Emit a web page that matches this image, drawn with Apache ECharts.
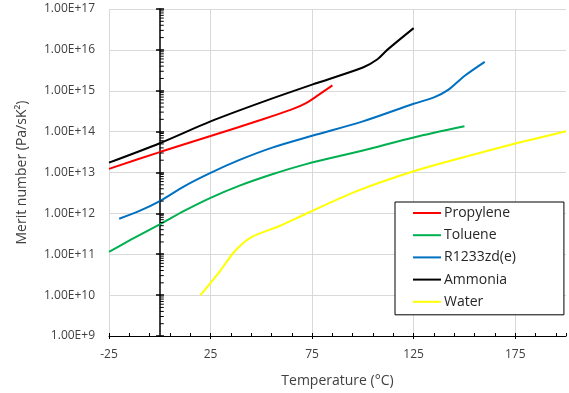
<!DOCTYPE html>
<html>
<head>
<meta charset="utf-8">
<script src="https://cdn.jsdelivr.net/npm/echarts@6/dist/echarts.min.js"></script>
<style>
  html, body { margin: 0; padding: 0; background: #fff; }
  #main { width: 569px; height: 393px; }
</style>
</head>
<body>
<div id="main"></div>
<script>
// values (temperature in °C, merit number in Pa/sK²)
var propyleneX = [-25, 0, 25, 50, 65, 72, 78, 85];
var propyleneY = [1.23e13, 3.16e13, 7.8e13, 1.95e14, 3.5e14, 5.0e14, 7.8e14, 1.35e15];

var tolueneX = [-25, -14, 0, 12, 25, 39, 55, 72, 100, 125, 150];
var tolueneY = [1.15e11, 2.3e11, 5.4e11, 1.15e12, 2.4e12, 4.7e12, 8.9e12, 1.6e13, 3.45e13, 7.2e13, 1.35e14];

var r1233X = [-20, -10, 0, 12, 25, 39, 55, 75, 100, 125, 135, 142, 150, 160];
var r1233Y = [7.4e11, 1.15e12, 2.0e12, 4.6e12, 9.8e12, 2.0e13, 4.0e13, 7.9e13, 1.78e14, 4.8e14, 6.9e14, 1.05e15, 2.3e15, 5.1e15];

var ammoniaX = [-25, 0, 25, 50, 75, 100, 107, 112, 125];
var ammoniaY = [1.74e13, 5.2e13, 1.78e14, 5.2e14, 1.41e15, 3.7e15, 5.8e15, 1.0e16, 3.4e16];

var waterX = [20, 29, 37, 45, 59, 72, 97, 125, 150, 175, 200];
var waterY = [1.0e10, 3.5e10, 1.2e11, 2.6e11, 4.9e11, 9.8e11, 3.5e12, 1.07e13, 2.4e13, 5.1e13, 1.02e14];

var seriesNames = ["Propylene", "Toluene", "R1233zd(e)", "Ammonia", "Water"];
var seriesColors = ["#FF0000", "#00B050", "#0070C0", "#000000", "#FFFF00"];

// minor tick marks on the vertical axis that crosses at 0 °C
var decadeStarts = [1e9, 1e10, 1e11, 1e12, 1e13, 1e14, 1e15, 1e16];
var minorSteps = [2, 3, 4, 5, 6, 7, 8, 9];

function zip(xs, ys) {
  return xs.map(function (x, i) { return [x, ys[i]]; });
}

var allData = [
  zip(propyleneX, propyleneY),
  zip(tolueneX, tolueneY),
  zip(r1233X, r1233Y),
  zip(ammoniaX, ammoniaY),
  zip(waterX, waterY)
];

var minorTickData = [];
decadeStarts.forEach(function (d) {
  minorSteps.forEach(function (s) { minorTickData.push([0, d * s]); });
});

var chart = echarts.init(document.getElementById("main"));
var font = "'Open Sans', 'Liberation Sans', sans-serif";

var logAxisBase = {
  type: "log",
  logBase: 10,
  min: 1e9,
  max: 1e17,
  splitNumber: 8
};

var lineSeries = allData.map(function (d, i) {
  return {
    name: seriesNames[i],
    type: "line",
    xAxisIndex: 0,
    yAxisIndex: 0,
    data: d,
    smooth: 0.3,
    symbol: "none",
    color: seriesColors[i],
    lineStyle: { color: seriesColors[i], width: 2 }
  };
});

var option = {
  animation: false,
  textStyle: { fontFamily: font },
  grid: { left: 109, right: 3, top: 9, bottom: 57 },
  legend: {
    orient: "vertical",
    left: 395,
    top: 202,
    padding: [3, 48, 5, 18],
    icon: "rect",
    itemWidth: 28,
    itemHeight: 2,
    itemGap: 6.2,
    borderColor: "#000",
    borderWidth: 1,
    backgroundColor: "#fff",
    textStyle: { fontSize: 14, lineHeight: 16, color: "#262626", padding: [0, 0, 0, -2] },
    data: seriesNames
  },
  xAxis: [
    {
      type: "value",
      min: -25,
      max: 200,
      interval: 50,
      position: "bottom",
      name: "Temperature (°C)",
      nameLocation: "middle",
      nameGap: 38,
      nameTextStyle: { fontSize: 14, color: "#404040" },
      axisLine: { show: true, onZero: false, lineStyle: { color: "#000", width: 1 } },
      axisTick: { show: true, inside: false, length: 3, lineStyle: { color: "#000" } },
      axisLabel: { fontSize: 12, color: "#404040", margin: 13, showMaxLabel: false },
      splitLine: { show: true, showMaxLine: false, lineStyle: { color: "#D9D9D9", width: 1 } }
    },
    {
      type: "value",
      min: -25,
      max: 200,
      interval: 50,
      position: "bottom",
      axisLine: { show: false, onZero: false },
      axisTick: { show: true, inside: true, length: 3, lineStyle: { color: "#000" } },
      minorTick: { show: true, splitNumber: 5, length: 3, lineStyle: { color: "#000" } },
      axisLabel: { show: false },
      splitLine: { show: false }
    }
  ],
  yAxis: [
    Object.assign({}, logAxisBase, {
      position: "left",
      name: "Merit number (Pa/sK²)",
      nameLocation: "middle",
      nameRotate: 90,
      nameGap: 80,
      nameTextStyle: { fontSize: 14, color: "#404040" },
      axisLine: { show: false },
      axisTick: { show: false },
      axisLabel: {
        fontSize: 12,
        color: "#404040",
        margin: 14,
        formatter: function (v) { return v.toExponential(2).toUpperCase(); }
      },
      splitLine: { show: true, lineStyle: { color: "#D9D9D9", width: 1 } }
    }),
    Object.assign({}, logAxisBase, {
      position: "left",
      offset: -51,
      axisLine: { show: true, lineStyle: { color: "#000", width: 1.5 } },
      axisTick: { show: true, inside: false, length: 4, lineStyle: { color: "#000", width: 1.5 } },
      axisLabel: { show: false },
      splitLine: { show: false }
    }),
    Object.assign({}, logAxisBase, {
      position: "left",
      offset: -51,
      axisLine: { show: false },
      axisTick: { show: true, inside: true, length: 4, lineStyle: { color: "#000", width: 1.5 } },
      axisLabel: { show: false },
      splitLine: { show: false }
    })
  ],
  series: lineSeries.concat([
    {
      name: "minorTicks",
      type: "scatter",
      xAxisIndex: 0,
      yAxisIndex: 1,
      data: minorTickData,
      symbol: "rect",
      symbolSize: [4, 1],
      symbolOffset: [2, 0],
      silent: true,
      itemStyle: { color: "#000", opacity: 1 },
      z: 5
    }
  ])
};

chart.setOption(option);
</script>
</body>
</html>
